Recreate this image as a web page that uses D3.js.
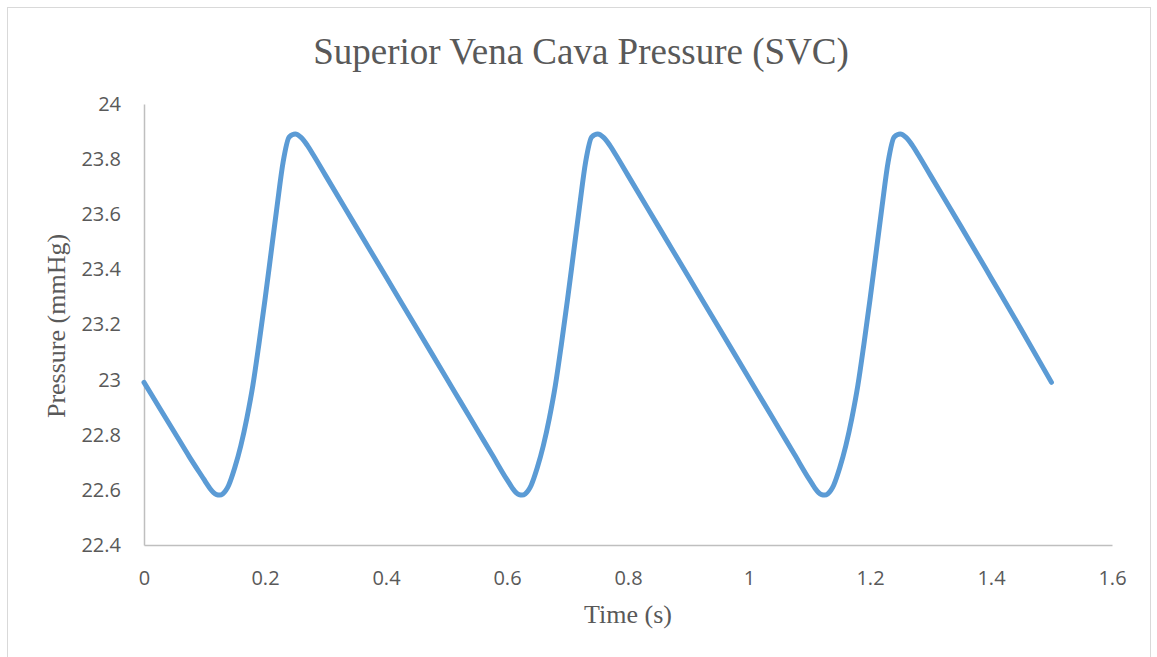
<!DOCTYPE html>
<html>
<head>
<meta charset="utf-8">
<script src="https://cdn.jsdelivr.net/npm/d3@7"></script>
<style>
  html, body { margin: 0; padding: 0; background: #fff; }
  svg { display: block; }
</style>
</head>
<body>
<svg id="chart" width="1157" height="657"></svg>
<script>
// Superior vena cava pressure over three cardiac cycles (period 0.5 s)
const timeS = [
  0.000, 0.025, 0.050, 0.075, 0.100, 0.105, 0.110, 0.115, 0.120, 0.125, 0.130, 0.135, 0.140,
  0.150, 0.160, 0.170, 0.180, 0.190, 0.200, 0.210, 0.220, 0.230, 0.240, 0.250, 0.260,
  0.270, 0.280, 0.300, 0.350, 0.400, 0.450,
  0.500, 0.525, 0.550, 0.575, 0.600, 0.605, 0.610, 0.615, 0.620, 0.625, 0.630, 0.635, 0.640,
  0.650, 0.660, 0.670, 0.680, 0.690, 0.700, 0.710, 0.720, 0.730, 0.740, 0.750, 0.760,
  0.770, 0.780, 0.800, 0.850, 0.900, 0.950,
  1.000, 1.025, 1.050, 1.075, 1.100, 1.105, 1.110, 1.115, 1.120, 1.125, 1.130, 1.135, 1.140,
  1.150, 1.160, 1.170, 1.180, 1.190, 1.200, 1.210, 1.220, 1.230, 1.240, 1.250, 1.260,
  1.270, 1.280, 1.300, 1.350, 1.400, 1.450, 1.500
];
const pressureMmHg = [
  22.99, 22.90, 22.81, 22.72, 22.635, 22.618, 22.602, 22.590, 22.583, 22.581, 22.585, 22.597, 22.617,
  22.68, 22.76, 22.86, 22.98, 23.13, 23.29, 23.46, 23.63, 23.79, 23.88, 23.891, 23.878,
  23.85, 23.815, 23.741, 23.557, 23.373, 23.189,
  23.005, 22.913, 22.821, 22.729, 22.637, 22.620, 22.603, 22.590, 22.583, 22.581, 22.585, 22.597, 22.617,
  22.68, 22.76, 22.86, 22.98, 23.13, 23.29, 23.46, 23.63, 23.79, 23.88, 23.891, 23.878,
  23.85, 23.815, 23.741, 23.557, 23.373, 23.189,
  23.005, 22.913, 22.821, 22.729, 22.637, 22.620, 22.603, 22.590, 22.583, 22.581, 22.585, 22.597, 22.617,
  22.68, 22.76, 22.86, 22.98, 23.13, 23.29, 23.46, 23.63, 23.79, 23.88, 23.891, 23.878,
  23.85, 23.815, 23.741, 23.557, 23.370, 23.182, 22.99
];
const xTickValues = [0, 0.2, 0.4, 0.6, 0.8, 1, 1.2, 1.4, 1.6];
const yTickValues = [22.4, 22.6, 22.8, 23, 23.2, 23.4, 23.6, 23.8, 24];

const titleText = "Superior Vena Cava Pressure (SVC)";
const xTitle = "Time (s)";
const yTitle = "Pressure (mmHg)";

const plot = { left: 144, right: 1112, top: 104, bottom: 545 };
const textColor = "#595959";
const axisColor = "#bfbfbf";
const lineColor = "#5b9bd5";
const serif = "'Liberation Serif', 'Times New Roman', serif";
const sans = "'Open Sans', 'Liberation Sans', sans-serif";

const svg = d3.select("#chart");

// chart area frame
svg.append("rect")
  .attr("x", 7.5).attr("y", 7.5)
  .attr("width", 1143).attr("height", 660)
  .attr("fill", "#fff")
  .attr("stroke", "#d9d9d9")
  .attr("stroke-width", 1);

const x = d3.scaleLinear().domain([0, 1.6]).range([plot.left, plot.right]);
const y = d3.scaleLinear().domain([22.4, 24]).range([plot.bottom, plot.top]);

// y axis
const yAxis = svg.append("g")
  .attr("transform", `translate(${plot.left},0)`)
  .call(d3.axisLeft(y).tickValues(yTickValues).tickSize(0).tickPadding(23)
    .tickFormat(d3.format("~g")));
yAxis.select(".domain").attr("stroke", axisColor).attr("stroke-width", 1.5);
yAxis.selectAll("text")
  .attr("fill", textColor)
  .style("font-family", sans)
  .style("font-size", "20px");

// x axis
const xAxis = svg.append("g")
  .attr("transform", `translate(0,${plot.bottom})`)
  .call(d3.axisBottom(x).tickValues(xTickValues).tickSize(0)
    .tickFormat(d3.format("~g")));
xAxis.select(".domain").attr("stroke", axisColor).attr("stroke-width", 1.5);
xAxis.selectAll("text")
  .attr("fill", textColor)
  .attr("dy", "0")
  .attr("y", 40)
  .style("font-family", sans)
  .style("font-size", "20px");

// pressure trace
const points = timeS.map((t, i) => [t, pressureMmHg[i]]);
const line = d3.line()
  .x(d => x(d[0]))
  .y(d => y(d[1]))
  .curve(d3.curveMonotoneX);

svg.append("path")
  .datum(points)
  .attr("d", line)
  .attr("fill", "none")
  .attr("stroke", lineColor)
  .attr("stroke-width", 5)
  .attr("stroke-linejoin", "round")
  .attr("stroke-linecap", "round");

// titles
svg.append("text")
  .attr("x", 581).attr("y", 64)
  .attr("text-anchor", "middle")
  .attr("fill", textColor)
  .style("font-family", serif)
  .style("font-size", "37px")
  .text(titleText);

svg.append("text")
  .attr("x", 628).attr("y", 623)
  .attr("text-anchor", "middle")
  .attr("fill", textColor)
  .style("font-family", serif)
  .style("font-size", "26px")
  .text(xTitle);

svg.append("text")
  .attr("transform", "translate(65,326) rotate(-90)")
  .attr("text-anchor", "middle")
  .attr("fill", textColor)
  .style("font-family", serif)
  .style("font-size", "26px")
  .text(yTitle);
</script>
</body>
</html>
